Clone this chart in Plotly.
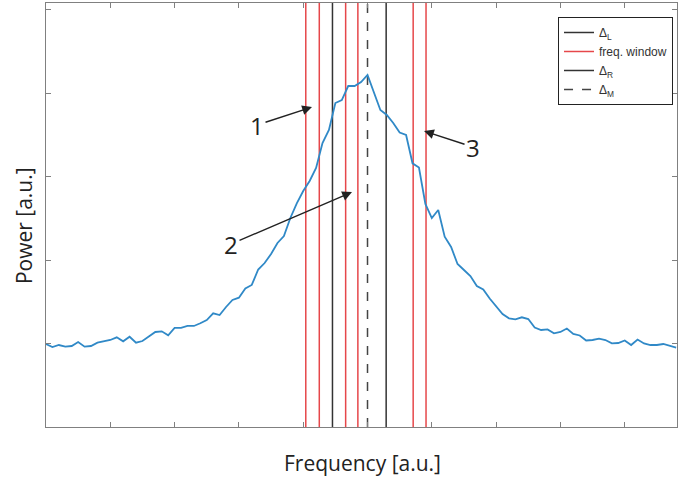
import numpy as np
import plotly.graph_objects as go

# spectrum, sampled every 0.1 freq units
freq = np.round(np.arange(99) * 0.1, 1)
power = [0.994, 0.958, 0.982, 0.962, 0.970, 1.018, 0.962, 0.970, 1.010, 1.026,
         1.042, 1.074, 1.026, 1.081, 1.010, 1.030, 1.081, 1.138, 1.146, 1.098,
         1.186, 1.186, 1.210, 1.210, 1.242, 1.281, 1.362, 1.341, 1.437, 1.521,
         1.549, 1.659, 1.701, 1.886, 1.964, 2.072, 2.204, 2.287, 2.503, 2.679,
         2.826, 2.946, 3.102, 3.401, 3.557, 3.880, 3.916, 4.084, 4.084, 4.132,
         4.216, 4.000, 3.796, 3.737, 3.641, 3.527, 3.497, 3.158, 3.108, 2.671,
         2.503, 2.599, 2.279, 2.156, 1.952, 1.880, 1.808, 1.689, 1.647, 1.539,
         1.449, 1.353, 1.302, 1.290, 1.314, 1.293, 1.192, 1.162, 1.168, 1.122,
         1.138, 1.180, 1.114, 1.096, 1.036, 1.042, 1.057, 1.042, 1.002, 1.006,
         1.036, 0.982, 1.048, 1.000, 0.982, 0.982, 0.994, 0.970, 0.952]

# marker positions
window = [4.04, 4.25, 4.66, 4.85, 5.71, 5.91]
delta_l = 4.455
delta_r = 5.29
delta_m = 5.0

# numbered arrows: label, arrow head (data units)
arrow_labels = ["1", "2", "3"]
arrow_heads = [(4.137, 3.832), (4.759, 2.814), (5.879, 3.545)]
arrow_offsets = [(-55, 18), (-121, 52), (49, 16)]

x_max = 9.813
y_max = 5.078

fig = go.Figure()

for i, w in enumerate(window):
    fig.add_trace(go.Scatter(x=[w, w], y=[0, y_max], mode="lines",
                             line=dict(color="#e6474a", width=1.5),
                             name="freq. window", showlegend=(i == 0),
                             legendrank=2))
fig.add_trace(go.Scatter(x=[delta_l, delta_l], y=[0, y_max], mode="lines",
                         line=dict(color="#333333", width=1.5),
                         name="Δ<sub>L</sub>", legendrank=1))
fig.add_trace(go.Scatter(x=[delta_r, delta_r], y=[0, y_max], mode="lines",
                         line=dict(color="#333333", width=1.5),
                         name="Δ<sub>R</sub>", legendrank=3))
fig.add_trace(go.Scatter(x=[delta_m, delta_m], y=[0, y_max], mode="lines",
                         line=dict(color="#444444", width=1.5, dash="dash"),
                         name="Δ<sub>M</sub>", legendrank=4))

fig.add_trace(go.Scatter(x=freq, y=power, mode="lines",
                         line=dict(color="#3089c7", width=1.8),
                         showlegend=False))

axis_style = dict(showline=True, linecolor="#808080", linewidth=1.2,
                  mirror="ticks", ticks="inside", ticklen=5,
                  tickcolor="#808080", showticklabels=False,
                  showgrid=False, zeroline=False)

fig.update_xaxes(range=[0, x_max], dtick=1, tick0=0, **axis_style)
fig.update_yaxes(range=[0, y_max], dtick=1, tick0=0, **axis_style)

for lab, head, off in zip(arrow_labels, arrow_heads, arrow_offsets):
    fig.add_annotation(x=head[0], y=head[1], ax=off[0], ay=off[1], text=lab,
                       showarrow=True, arrowhead=2, arrowsize=1.4,
                       arrowwidth=1.4, arrowcolor="#222222", standoff=0,
                       startstandoff=0,
                       font=dict(family="Open Sans", size=24, color="#222222"))

fig.add_annotation(x=0.5008, y=-0.085, xref="paper", yref="paper",
                   xanchor="center", yanchor="middle",
                   text="Frequency [a.u.]", showarrow=False,
                   font=dict(family="Open Sans", size=21, color="#222222"))
fig.add_annotation(x=-0.035, y=0.476, xref="paper", yref="paper",
                   xanchor="center", yanchor="middle",
                   text="Power [a.u.]", showarrow=False, textangle=-90,
                   font=dict(family="Open Sans", size=21, color="#222222"))

fig.update_layout(
    width=678, height=481,
    margin=dict(l=46, r=1, t=3, b=54),
    plot_bgcolor="white", paper_bgcolor="white",
    legend=dict(x=0.9937, y=0.967, xanchor="right", yanchor="top",
                bgcolor="white", bordercolor="#222222", borderwidth=1,
                font=dict(family="Liberation Sans", size=12, color="#333333"),
                tracegroupgap=0, itemwidth=30),
)

# drop the default 8px body margin so the figure sits at the window corner
fig.write_html("out.html", config={"displayModeBar": False},
               post_script="document.body.style.margin='0';")
